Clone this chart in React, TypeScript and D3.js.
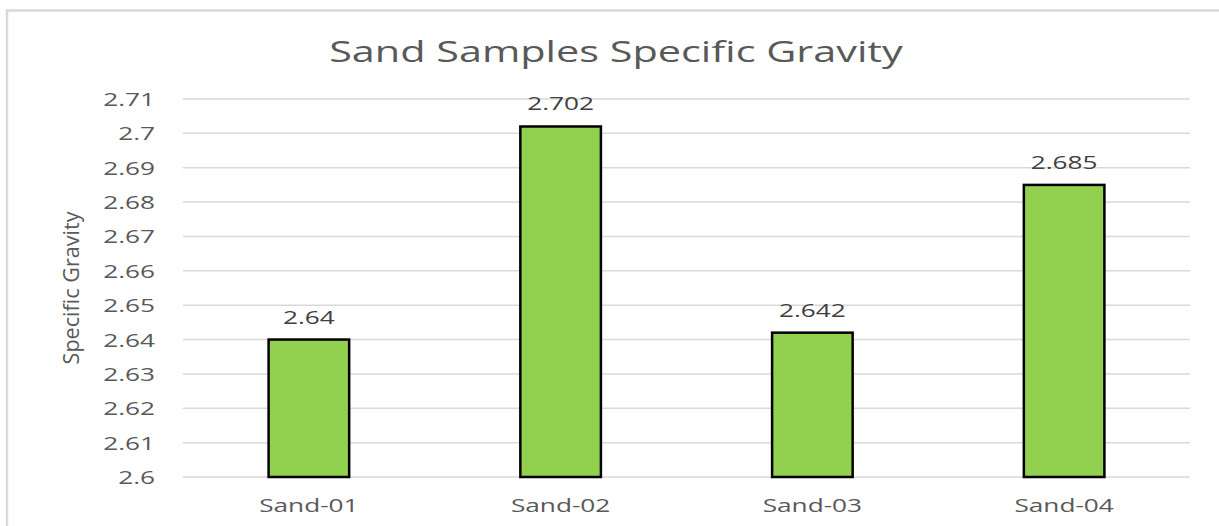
import React, { useEffect, useRef } from 'react';
import * as d3 from 'd3';

// data
const samples = ['Sand-01', 'Sand-02', 'Sand-03', 'Sand-04'];
const gravity = [2.64, 2.702, 2.642, 2.685];
const yTicks = [2.6, 2.61, 2.62, 2.63, 2.64, 2.65, 2.66, 2.67, 2.68, 2.69, 2.7, 2.71];

const chartTitle = 'Sand Samples Specific Gravity';
const yTitle = 'Specific Gravity';

const App = () => {
  const svgRef = useRef<SVGSVGElement>(null);

  useEffect(() => {
    const width = 1219;
    const height = 526;
    const margin = { top: 99, right: 29, bottom: 49, left: 183 };
    const sx = 1.38; // the picture is stretched sideways, so is the text
    const font = '"Open Sans", sans-serif';

    const svg = d3.select(svgRef.current);
    svg.selectAll('*').remove();

    // white background and the chart area frame
    svg.append('rect').attr('width', width).attr('height', height).attr('fill', 'white');
    svg.append('path')
      .attr('d', `M7,${height} V10.5 H${width}`)
      .attr('fill', 'none')
      .attr('stroke', '#d9d9d9')
      .attr('stroke-width', 2.5);

    const x = d3.scaleBand()
      .domain(samples)
      .range([margin.left, width - margin.right])
      .padding(0);

    const y = d3.scaleLinear()
      .domain([2.6, 2.71])
      .range([height - margin.bottom, margin.top]);

    const barW = x.bandwidth() * 0.32;

    // gridlines
    svg.append('g')
      .selectAll('line')
      .data(yTicks)
      .enter()
      .append('line')
      .attr('x1', margin.left)
      .attr('x2', width - margin.right)
      .attr('y1', d => y(d))
      .attr('y2', d => y(d))
      .attr('stroke', '#d9d9d9')
      .attr('stroke-width', 1.5);

    // y tick labels
    svg.append('g')
      .selectAll('text')
      .data(yTicks)
      .enter()
      .append('text')
      .attr('transform', d => `translate(155,${y(d) + 7}) scale(${sx},1)`)
      .attr('text-anchor', 'end')
      .attr('font-family', font)
      .attr('font-size', 19)
      .attr('fill', '#595959')
      .text(d => String(d));

    // bars
    const data = samples.map((s, i) => ({ s, v: gravity[i] }));
    svg.append('g')
      .selectAll('rect')
      .data(data)
      .enter()
      .append('rect')
      .attr('x', d => x(d.s)! + (x.bandwidth() - barW) / 2)
      .attr('y', d => y(d.v))
      .attr('width', barW)
      .attr('height', d => y(2.6) - y(d.v))
      .attr('fill', '#92d050')
      .attr('stroke', '#000')
      .attr('stroke-width', 2.5);

    // value labels
    svg.append('g')
      .selectAll('text')
      .data(data)
      .enter()
      .append('text')
      .attr('transform', d => `translate(${x(d.s)! + x.bandwidth() / 2},${y(d.v) - 16}) scale(${sx},1)`)
      .attr('text-anchor', 'middle')
      .attr('font-family', font)
      .attr('font-size', 19)
      .attr('fill', '#404040')
      .text(d => String(d.v));

    // x labels
    svg.append('g')
      .selectAll('text')
      .data(samples)
      .enter()
      .append('text')
      .attr('transform', d => `translate(${x(d)! + x.bandwidth() / 2},512) scale(${sx},1)`)
      .attr('text-anchor', 'middle')
      .attr('font-family', font)
      .attr('font-size', 19)
      .attr('fill', '#595959')
      .text(d => d);

    // title
    svg.append('text')
      .attr('transform', `translate(616,62) scale(${sx},1)`)
      .attr('text-anchor', 'middle')
      .attr('font-family', font)
      .attr('font-size', 30)
      .attr('fill', '#595959')
      .text(chartTitle);

    // y axis title
    svg.append('text')
      .attr('transform', `translate(79,${(y(2.6) + y(2.71)) / 2}) rotate(-90) scale(1.2,1.2)`)
      .attr('text-anchor', 'middle')
      .attr('font-family', font)
      .attr('font-size', 18)
      .attr('fill', '#595959')
      .text(yTitle);
  }, []);

  return (
    <svg
      ref={svgRef}
      width={1219}
      height={526}
      style={{ position: 'absolute', left: 0, top: 0 }}
    />
  );
};

export default App;
